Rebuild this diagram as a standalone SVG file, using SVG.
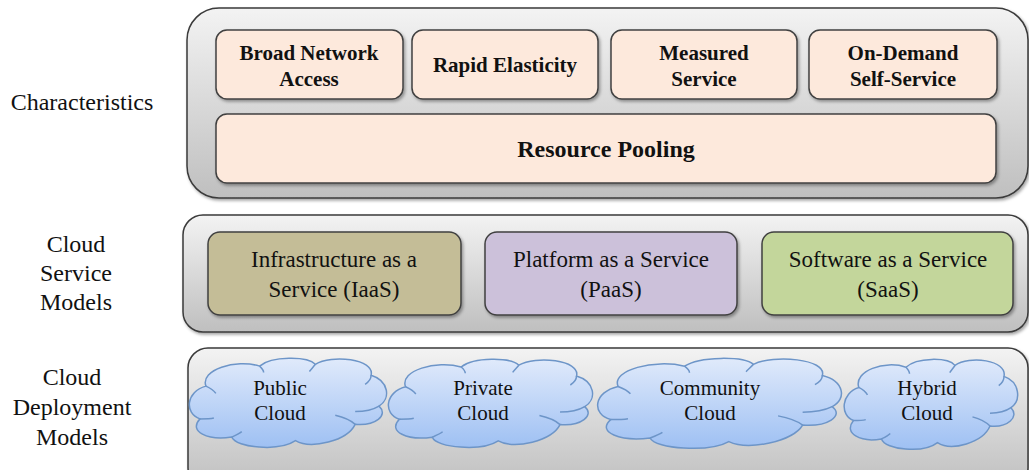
<svg xmlns="http://www.w3.org/2000/svg" width="1029" height="470" viewBox="0 0 1029 470" font-family="Liberation Serif, Times New Roman, DejaVu Serif, serif">
<style>
.panel{fill:url(#panelGrad);stroke:#3a3a3a;stroke-width:1.5;filter:url(#shadow)}
.box{stroke:#404040;stroke-width:1.5;filter:url(#shadow)}
.peach{fill:#fde9dc}
.iaas{fill:#c4bd97}
.paas{fill:#ccc1da}
.saas{fill:#c3d69b}
.cloudFill{fill:url(#cloudGrad);stroke:#6d95c8;stroke-width:1.5;vector-effect:non-scaling-stroke}
.cloudLine{fill:none;stroke:#6d95c8;stroke-width:1.5;vector-effect:non-scaling-stroke}
text{fill:#111;text-anchor:middle}
.bold{font-weight:bold}
</style>
<defs>
<linearGradient id="panelGrad" x1="0" y1="0" x2="0" y2="1">
<stop offset="0" stop-color="#f3f3f3"/>
<stop offset="1" stop-color="#bfbfbf"/>
</linearGradient>
<linearGradient id="cloudGrad" x1="0" y1="0" x2="0" y2="1">
<stop offset="0" stop-color="#e0eafb"/>
<stop offset="1" stop-color="#9ec0f3"/>
</linearGradient>
<filter id="shadow" x="-5%" y="-5%" width="115%" height="125%">
<feDropShadow dx="1.5" dy="2" stdDeviation="1.5" flood-color="#000" flood-opacity="0.35"/>
</filter>
<g id="cloudShape">
<path class="cloudFill" d="M 6,68 C -2,62 -1,38 9,32 C 6,14 24,2 36,10 C 42,-1 60,-1 64,8 C 72,-3 94,2 92,20 C 101,26 102,46 96,54 C 101,64 94,76 84,74 C 80,92 62,102 54,92 C 46,104 24,100 22,88 C 10,92 0,82 6,68 Z"/>
<path class="cloudLine" d="M 9,32 C 11,34 13,37 14,40 M 36,10 C 37,12 38,14 38,17 M 64,8 C 63,11 62,13 61,16 M 92,20 C 92,24 91,27 89,30 M 96,54 C 93,58 88,60 84,60 M 84,74 C 82,70 78,66 74,64 M 22,88 C 24,86 26,84 27,82 M 6,68 C 8,68 11,68 13,67"/>
</g>
</defs>
<rect width="1029" height="470" fill="#ffffff"/>

<g id="labels" font-family="Liberation Serif">
<text x="82" y="110" font-size="24">Characteristics</text>
<text x="76" y="252" font-size="24">Cloud</text>
<text x="76" y="281" font-size="24">Service</text>
<text x="76" y="310" font-size="24">Models</text>
<text x="72" y="385" font-size="24">Cloud</text>
<text x="72" y="415" font-size="24">Deployment</text>
<text x="72" y="445" font-size="24">Models</text>
</g>

<g id="panel-characteristics">
<rect class="panel" x="187" y="8" width="841" height="190" rx="32"/>
</g>
<g id="panel-service">
<rect class="panel" x="183" y="215" width="845" height="117" rx="20"/>
</g>
<g id="panel-deployment">
<rect class="panel" x="188" y="348" width="840" height="140" rx="20"/>
</g>

<g id="broad-network-access">
<rect class="box peach" x="216" y="30" width="187" height="69" rx="11"/>
<text class="bold" x="309" y="60" font-size="21">Broad Network</text>
<text class="bold" x="309" y="86" font-size="21">Access</text>
</g>
<g id="rapid-elasticity">
<rect class="box peach" x="412" y="30" width="186" height="69" rx="11"/>
<text class="bold" x="505" y="72" font-size="21">Rapid Elasticity</text>
</g>
<g id="measured-service">
<rect class="box peach" x="611" y="30" width="186" height="69" rx="11"/>
<text class="bold" x="704" y="60" font-size="21">Measured</text>
<text class="bold" x="704" y="86" font-size="21">Service</text>
</g>
<g id="on-demand-self-service">
<rect class="box peach" x="809" y="30" width="188" height="69" rx="11"/>
<text class="bold" x="903" y="60" font-size="21">On-Demand</text>
<text class="bold" x="903" y="86" font-size="21">Self-Service</text>
</g>
<g id="resource-pooling">
<rect class="box peach" x="216" y="114" width="780" height="69" rx="11"/>
<text class="bold" x="606" y="157" font-size="24">Resource Pooling</text>
</g>

<g id="iaas">
<rect class="box iaas" x="208" y="232" width="253" height="83" rx="12"/>
<text x="334" y="267" font-size="23">Infrastructure as a</text>
<text x="334" y="297" font-size="23">Service (IaaS)</text>
</g>
<g id="paas">
<rect class="box paas" x="485" y="232" width="252" height="83" rx="12"/>
<text x="611" y="267" font-size="23">Platform as a Service</text>
<text x="611" y="297" font-size="23">(PaaS)</text>
</g>
<g id="saas">
<rect class="box saas" x="762" y="232" width="251" height="83" rx="12"/>
<text x="888" y="267" font-size="23">Software as a Service</text>
<text x="888" y="297" font-size="23">(SaaS)</text>
</g>

<g id="public-cloud">
<use href="#cloudShape" transform="translate(188,357) scale(1.99,0.91)"/>
<text x="280" y="395" font-size="21">Public</text>
<text x="280" y="420" font-size="21">Cloud</text>
</g>
<g id="private-cloud">
<use href="#cloudShape" transform="translate(387,358) scale(2.06,0.90)"/>
<text x="483" y="395" font-size="21">Private</text>
<text x="483" y="420" font-size="21">Cloud</text>
</g>
<g id="community-cloud">
<use href="#cloudShape" transform="translate(596,357) scale(2.46,0.92)"/>
<text x="710" y="395" font-size="21">Community</text>
<text x="710" y="420" font-size="21">Cloud</text>
</g>
<g id="hybrid-cloud">
<use href="#cloudShape" transform="translate(843,358) scale(1.75,0.92)"/>
<text x="927" y="395" font-size="21">Hybrid</text>
<text x="927" y="420" font-size="21">Cloud</text>
</g>

<g id="connectors"></g>
</svg>
